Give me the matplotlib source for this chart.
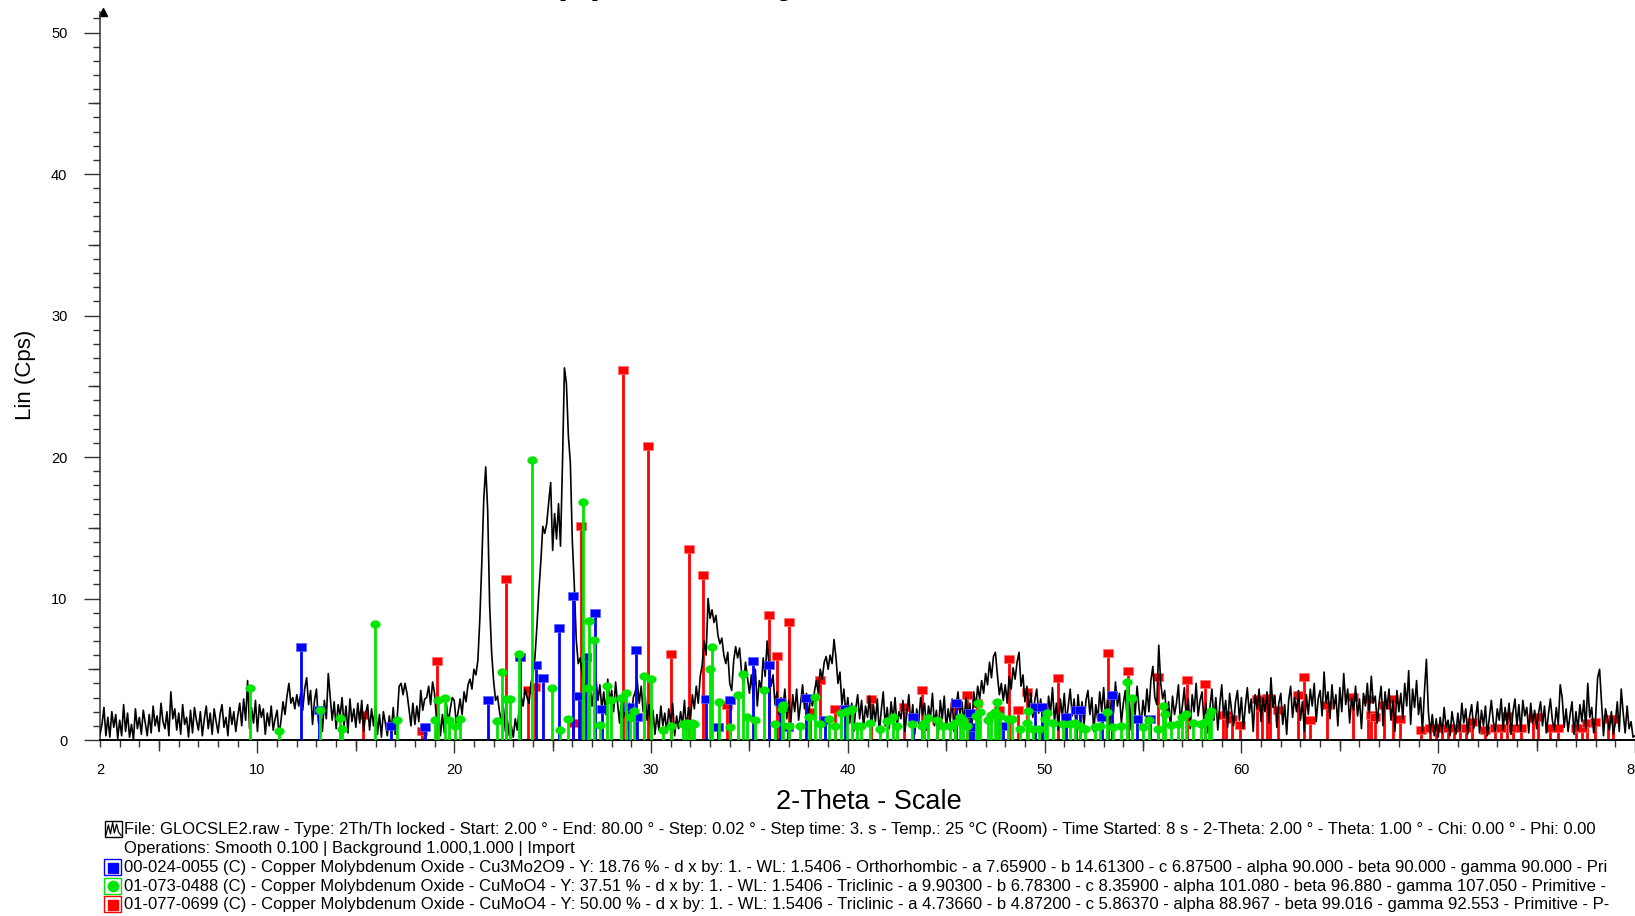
import numpy as np
import matplotlib
matplotlib.use('Agg')
import matplotlib.pyplot as plt
from matplotlib.patches import Rectangle
from matplotlib.lines import Line2D

plt.rcParams['font.family'] = ['Liberation Sans', 'DejaVu Sans']

# measured pattern, 2.0 .. 80.0 deg, step 0.1 (one row per degree)
start_2theta = 2.0
step_2theta = 0.1
counts = [
    0.4, 1.1, 2.3, 0.3, 1.6, 0.2, 2.0, 0.9, 1.8, 0.1,
    1.4, 0.3, 2.5, 0.6, 1.9, 0.2, 1.1, 0.0, 2.2, 0.8,
    1.6, 0.4, 2.1, 1.2, 0.3, 1.8, 0.5, 2.4, 1.0, 1.7,
    0.6, 2.6, 1.3, 0.8, 2.0, 0.3, 3.4, 1.5, 2.2, 0.7,
    1.9, 0.4, 2.5, 1.1, 1.6, 0.2, 2.1, 0.5, 2.3, 1.4,
    0.7, 2.0, 0.3, 1.5, 2.4, 0.8, 1.9, 0.4, 2.2, 1.3,
    0.5, 1.8, 2.5, 0.9, 1.6, 0.3, 2.3, 1.1, 2.0, 0.6,
    1.7, 2.6, 1.0, 2.9, 1.4, 4.2, 0.8, 2.3, 1.2, 2.8,
    0.6, 2.5, 1.6, 2.2, 0.4, 1.9, 1.0, 2.4, 0.7, 1.5,
    2.1, 0.3, 1.4, 2.7, 1.8, 3.1, 4.0, 2.6, 3.0, 2.2,
    3.2, 2.4, 3.3, 2.1, 3.6, 4.4, 2.5, 3.5, 1.1, 2.8,
    3.6, 1.2, 2.3, 0.6, 2.8, 1.5, 4.7, 3.0, 1.4, 2.7,
    0.8, 2.5, 1.7, 3.0, 1.0, 2.4, 0.5, 2.9, 1.3, 2.2,
    0.9, 2.6, 1.2, 2.8, 0.6, 1.9, 2.5, 0.7, 2.2, 1.0,
    2.4, 0.4, 1.8, 0.2, 2.0, 1.2, 0.3, 1.7, 0.6, 2.3,
    0.4, 1.5, 3.8, 4.0, 3.2, 4.0, 3.3, 2.2, 1.0, 2.6,
    1.1, 2.4, 1.3, 3.5, 2.1, 2.9, 3.0, 3.8, 2.5, 4.1,
    3.3, 1.4, 2.0, 0.3, 1.8, 0.5, 2.6, 1.2, 2.2, 3.0,
    2.8, 1.2, 2.0, 2.9, 1.8, 3.4, 2.7, 3.9, 4.3, 3.6,
    5.0, 4.6, 5.6, 8.5, 12.5, 17.0, 19.3, 16.2, 9.5, 6.2,
    4.2, 2.8, 3.1, 2.0, 1.2, 2.3, 0.6, 1.4, 0.3, 1.0,
    0.2, 1.5, 0.7, 2.2, 3.1, 2.4, 3.6, 3.0, 2.6, 4.0,
    4.7, 5.8, 8.0, 10.5, 12.6, 15.1, 14.6, 15.3, 16.8, 18.2,
    13.4, 16.0, 14.2, 16.7, 13.7, 19.5, 26.3, 25.2, 21.5, 19.6,
    14.1, 11.0, 7.1, 5.4, 5.8, 4.6, 3.5, 4.2, 2.6, 3.8,
    2.4, 3.6, 4.4, 2.8, 3.9, 2.2, 3.4, 1.8, 4.3, 2.7,
    3.5, 2.0, 4.1, 2.6, 1.2, 3.0, 1.6, 2.4, 0.8, 2.6,
    1.5, 3.0, 3.4, 4.2, 2.6, 3.8, 2.0, 3.1, 1.4, 2.5,
    0.9, 2.1, 0.4, 1.8, 0.7, 2.4, 1.0, 1.9, 0.5, 2.2,
    1.2, 2.6, 0.3, 1.7, 0.8, 2.0, 1.1, 2.8, 0.6, 2.3,
    1.4, 3.2, 2.2, 3.8, 2.6, 4.5, 5.3, 7.0, 6.0, 10.0,
    8.6, 9.2, 8.3, 8.8, 7.4, 6.8, 7.2, 6.0, 5.4, 6.2,
    4.0, 3.5, 5.6, 6.6, 5.8, 6.5, 4.8, 3.9, 5.5, 4.4,
    3.3, 4.6, 3.0, 5.0, 2.4, 4.2, 3.6, 5.8, 4.5, 7.0,
    5.2, 3.8, 4.6, 2.5, 3.4, 1.8, 3.0, 2.2, 3.6, 1.5,
    2.8, 1.2, 3.2, 2.0, 3.6, 1.4, 2.6, 3.9, 2.2, 3.3,
    1.6, 3.0, 2.4, 3.4, 4.2, 3.3, 5.0, 4.3, 5.5, 5.9,
    5.0, 6.0, 5.4, 7.1, 5.8, 4.0, 4.8, 2.5, 3.6, 1.8,
    3.0, 1.2, 2.6, 0.6, 2.2, 3.2, 1.5, 2.8, 0.9, 2.4,
    1.6, 3.1, 0.7, 2.5, 1.3, 2.9, 0.5, 2.1, 3.4, 1.0,
    2.3, 0.8, 2.7, 1.4, 3.0, 0.9, 2.0, 1.5, 2.8, 0.6,
    1.9, 3.2, 1.1, 2.5, 0.4, 2.2, 1.2, 3.0, 1.8, 2.6,
    0.7, 2.4, 1.6, 3.3, 1.0, 2.1, 0.5, 2.8, 1.5, 3.1,
    0.8, 2.2, 1.3, 2.9, 0.6, 2.4, 3.4, 1.8, 2.7, 1.2,
    3.0, 1.5, 2.6, 0.7, 3.4, 2.3, 3.8, 2.9, 4.2, 3.3,
    4.7, 3.9, 5.5, 4.4, 5.9, 6.2, 4.6, 3.2, 4.0, 2.8,
    3.9, 2.6, 4.5, 3.6, 5.1, 4.3, 5.5, 6.2, 3.8, 4.6,
    2.7, 3.8, 2.1, 3.3, 1.6, 2.8, 3.6, 1.9, 2.9, 1.2,
    2.5, 0.8, 3.1, 1.9, 3.7, 1.3, 2.6, 0.7, 2.9, 1.6,
    3.3, 1.1, 2.4, 3.6, 1.7, 2.9, 0.9, 3.2, 1.5, 2.7,
    1.0, 2.8, 3.5, 1.8, 3.0, 0.6, 2.5, 1.4, 3.4, 2.0,
    3.7, 1.5, 2.9, 0.8, 3.2, 1.9, 4.1, 2.4, 3.3, 1.2,
    2.6, 3.5, 1.4, 2.9, 0.7, 3.0, 1.8, 3.8, 2.2, 1.0,
    2.8, 1.7, 3.6, 2.0, 4.2, 5.2, 3.0, 2.5, 6.7, 4.0,
    2.9, 3.5, 1.6, 2.7, 0.9, 3.1, 1.8, 2.6, 3.9, 1.3,
    2.4, 3.7, 1.5, 2.9, 0.8, 3.2, 2.0, 4.0, 1.7, 2.8,
    3.4, 1.2, 2.6, 0.5, 2.3, 3.6, 1.4, 3.0, 0.7, 2.5,
    3.9, 1.6, 2.8, 0.9, 3.3, 2.1, 1.0, 2.7, 3.5, 1.4,
    3.0, 0.8, 2.4, 3.7, 1.9, 2.9, 0.6, 3.2, 2.2, 3.6,
    1.3, 3.0, 2.0, 3.4, 1.2, 4.4, 2.3, 3.1, 0.9, 2.6,
    3.3, 1.1, 2.5, 0.4, 2.8, 3.8, 1.6, 3.0, 2.0, 3.5,
    1.4, 2.7, 0.6, 3.2, 1.8, 3.6, 2.4, 4.0, 1.3, 2.9,
    3.5, 1.7, 4.8, 2.6, 3.4, 1.5, 3.9, 2.2, 3.2, 1.0,
    3.7, 2.0, 4.7, 2.5, 3.6, 1.2, 3.0, 2.1, 3.8, 1.7,
    2.9, 0.8, 3.3, 2.4, 4.0, 1.9, 4.5, 2.6, 3.1, 1.2,
    2.7, 3.8, 1.0, 3.4, 2.2, 3.6, 1.4, 2.8, 0.6, 3.5,
    2.0, 3.3, 1.5, 4.0, 2.4, 4.9, 1.1, 3.6, 2.3, 4.2,
    1.8, 3.0, 0.6, 3.4, 5.7, 2.0, 0.5, 1.8, 0.3, 1.5,
    0.2, 1.6, 0.5, 2.3, 0.9, 1.4, 0.3, 2.0, 1.1, 0.4,
    1.9, 0.6, 2.6, 1.2, 2.2, 0.4, 1.7, 2.5, 0.8, 1.5,
    2.7, 0.5, 2.1, 1.0, 2.4, 0.3, 1.6, 2.8, 1.3, 0.6,
    2.2, 1.4, 2.9, 0.7, 2.3, 1.1, 2.6, 0.4, 2.0, 2.9,
    1.0, 2.5, 0.6, 2.8, 1.7, 2.3, 0.5, 2.6, 1.2, 2.1,
    0.8, 1.9, 2.7, 1.0, 2.4, 0.5, 1.8, 2.9, 1.4, 0.7,
    2.3, 1.1, 3.9, 3.0, 0.9, 2.2, 0.6, 1.8, 2.7, 0.4,
    2.0, 0.7, 2.5, 1.3, 2.8, 0.8, 4.0, 1.6, 2.3, 0.5,
    1.6, 4.4, 5.0, 2.6, 0.3, 2.2, 1.5, 0.7, 2.0, 0.4,
    1.2, 2.7, 0.6, 3.6, 1.9, 0.5, 2.4, 0.8, 1.3, 0.2,
    0.3,
]

# reference patterns (stick positions in deg 2-theta, intensity in Cps)
blue_pos = [12.2, 13.13, 16.8, 18.5, 21.73, 23.34, 24.14, 24.5, 25.34, 26.02,
            26.35, 26.7, 27.15, 27.5, 28.9, 29.22, 29.3, 32.8, 33.4, 34.0,
            35.17, 35.98, 36.55, 36.97, 37.9, 38.84, 39.86, 43.33, 45.5, 46.2,
            46.37, 47.9, 49.5, 49.85, 51.1, 51.6, 51.8, 52.9, 53.4, 54.67, 55.35]
blue_int = [6.6, 2.1, 1.0, 0.9, 2.8, 5.9, 5.3, 4.35, 7.9, 10.2,
            3.1, 5.9, 8.95, 2.2, 2.35, 6.35, 1.65, 2.9, 0.95, 2.8,
            5.6, 5.3, 2.7, 0.95, 2.95, 1.4, 2.2, 1.65, 2.6, 1.9,
            0.95, 1.0, 2.35, 2.35, 1.65, 2.1, 2.1, 1.65, 3.2, 1.5, 1.5]

green_pos = [9.62, 11.1, 13.2, 14.2, 14.3, 15.96, 17.1, 19.03, 19.2, 19.53,
             19.75, 20.02, 20.3, 22.16, 22.43, 22.63, 22.83, 23.29, 23.93, 24.95,
             25.37, 25.8, 26.52, 26.8, 26.87, 27.12, 27.4, 27.78, 27.96, 28.46,
             28.73, 28.91, 29.14, 29.66, 30.02, 30.62, 31.02, 31.6, 31.8, 31.95,
             32.1, 32.2, 32.98, 33.08, 33.45, 34.0, 34.43, 34.66, 34.86, 35.28,
             35.76, 36.32, 36.64, 36.72, 37.03, 37.57, 38.04, 38.33, 38.6, 39.06,
             39.35, 39.63, 39.94, 40.19, 40.45, 40.67, 41.13, 41.63, 41.97, 42.28,
             42.51, 43.24, 43.75, 43.88, 44.09, 44.51, 44.85, 45.19, 45.44, 45.7,
             45.83, 46.04, 46.5, 46.6, 46.7, 47.14, 47.3, 47.5, 47.6, 47.73,
             48.12, 48.32, 48.75, 49.08, 49.17, 49.42, 49.73, 50.0, 50.1, 50.44,
             50.95, 51.29, 51.54, 51.8, 52.05, 52.56, 52.8, 53.18, 53.49, 53.9,
             54.2, 54.42, 55.0, 55.32, 55.78, 56.0, 56.1, 56.4, 56.79, 57.0,
             57.18, 57.55, 57.93, 58.15, 58.37, 58.48]
green_int = [3.7, 0.64, 2.1, 1.55, 0.8, 8.2, 1.4, 1.4, 2.8, 3.0,
             1.4, 0.97, 1.5, 1.37, 4.8, 2.9, 2.9, 6.1, 19.8, 3.65,
             0.7, 1.48, 16.8, 3.65, 8.4, 7.1, 1.05, 3.82, 2.8, 2.97,
             3.35, 1.65, 2.06, 4.5, 4.3, 0.72, 0.97, 1.1, 1.2, 1.15,
             1.2, 1.1, 5.05, 6.6, 2.7, 0.92, 3.2, 4.64, 1.65, 1.4,
             3.5, 1.1, 2.2, 2.45, 1.0, 1.0, 1.6, 3.06, 1.1, 1.5,
             1.0, 1.9, 2.07, 2.2, 1.0, 1.0, 1.2, 0.75, 1.34, 1.6,
             1.0, 1.1, 1.0, 1.2, 1.53, 1.4, 1.0, 1.0, 1.2, 1.65,
             1.4, 1.0, 1.7, 2.6, 2.0, 1.4, 1.77, 2.0, 2.66, 1.7,
             1.5, 1.5, 0.8, 1.2, 2.07, 0.8, 0.8, 1.5, 1.9, 1.2,
             1.1, 1.1, 1.2, 1.0, 0.8, 0.9, 1.0, 2.0, 0.9, 1.0,
             4.12, 2.94, 0.9, 1.4, 0.8, 2.4, 1.84, 1.05, 1.1, 1.65,
             1.84, 1.2, 1.1, 1.3, 1.72, 2.05]

red_pos = [15.35, 18.34, 19.1, 22.63, 23.76, 24.1, 26.02, 26.43, 28.56, 29.83,
           31.0, 31.93, 32.66, 33.88, 35.99, 36.38, 37.0, 38.08, 38.58, 39.35,
           41.16, 42.85, 43.75, 44.51, 45.44, 46.04, 46.54, 47.67, 48.19, 48.66,
           49.08, 50.7, 53.23, 54.22, 55.74, 57.21, 58.15, 59.08, 59.2, 59.5,
           59.93, 60.8, 61.03, 61.28, 61.45, 61.84, 62.89, 63.18, 63.48, 64.33,
           65.65, 66.44, 66.6, 66.77, 67.25, 67.7, 68.05, 69.15, 69.6, 69.9,
           70.2, 70.5, 70.8, 71.1, 71.4, 71.7, 72.4, 72.9, 73.2, 73.5,
           73.8, 74.2, 74.83, 75.08, 75.68, 76.1, 77.0, 77.3, 77.54, 77.96,
           78.64, 78.9]
red_int = [1.8, 0.66, 5.6, 11.36, 3.53, 3.72, 1.18, 15.15, 26.15, 20.78,
           6.08, 13.48, 11.66, 2.47, 8.83, 5.96, 8.36, 2.0, 4.24, 2.2,
           2.88, 2.35, 3.53, 1.41, 2.4, 3.18, 2.64, 2.1, 5.7, 2.12,
           3.42, 4.4, 6.17, 4.88, 4.43, 4.24, 3.98, 1.77, 1.77, 1.5,
           1.05, 2.87, 2.3, 3.0, 3.0, 2.12, 3.18, 4.43, 1.4, 2.47,
           3.06, 2.9, 1.77, 1.65, 2.5, 2.87, 1.5, 0.7, 0.82, 0.82,
           0.82, 0.82, 0.82, 0.82, 0.82, 1.3, 0.7, 0.87, 0.87, 1.7,
           0.87, 0.87, 1.53, 1.6, 0.82, 0.82, 0.82, 0.82, 1.2, 1.25,
           1.46, 1.46]

title = 'Copper Molybdenum Oxide'
legend_lines = [
    'File: GLOCSLE2.raw - Type: 2Th/Th locked - Start: 2.00 \u00b0 - End: 80.00 \u00b0 - Step: 0.02 \u00b0 - '
    'Step time: 3. s - Temp.: 25 \u00b0C (Room) - Time Started: 8 s - 2-Theta: 2.00 \u00b0 - '
    'Theta: 1.00 \u00b0 - Chi: 0.00 \u00b0 - Phi: 0.00',
    'Operations: Smooth 0.100 | Background 1.000,1.000 | Import',
    '00-024-0055 (C) - Copper Molybdenum Oxide - Cu3Mo2O9 - Y: 18.76 % - d x by: 1. - WL: 1.5406 - '
    'Orthorhombic - a 7.65900 - b 14.61300 - c 6.87500 - alpha 90.000 - beta 90.000 - gamma 90.000 - Pri',
    '01-073-0488 (C) - Copper Molybdenum Oxide - CuMoO4 - Y: 37.51 % - d x by: 1. - WL: 1.5406 - '
    'Triclinic - a 9.90300 - b 6.78300 - c 8.35900 - alpha 101.080 - beta 96.880 - gamma 107.050 - Primitive -',
    '01-077-0699 (C) - Copper Molybdenum Oxide - CuMoO4 - Y: 50.00 % - d x by: 1. - WL: 1.5406 - '
    'Triclinic - a 4.73660 - b 4.87200 - c 5.86370 - alpha 88.967 - beta 99.016 - gamma 92.553 - Primitive - P-',
]

W, H = 1635, 916
BLUE, GREEN, RED = '#0000ff', '#00e600', '#ff0000'

two_theta = start_2theta + step_2theta * np.arange(len(counts))

fig = plt.figure(figsize=(W / 100, H / 100), dpi=100)
ax = fig.add_axes([100 / W, (H - 740) / H, 1535 / W, 728 / H])

# rectangular and elliptic stick heads
rect_marker = [(-1, -0.75), (1, -0.75), (1, 0.75), (-1, 0.75), (-1, -0.75)]
t = np.linspace(0, 2 * np.pi, 32)
ell_marker = list(zip(np.cos(t), 0.8 * np.sin(t)))

ax.vlines(red_pos, 0, red_int, colors=RED, lw=2.0, zorder=2)
ax.plot(red_pos, red_int, ls='none', marker=rect_marker, ms=7, mfc=RED, mec='#ff7070', mew=0.5, zorder=2)

ax.plot(two_theta, counts, color='black', lw=1.2, zorder=3)

ax.vlines(blue_pos, 0, blue_int, colors=BLUE, lw=2.0, zorder=4)
ax.plot(blue_pos, blue_int, ls='none', marker=rect_marker, ms=7, mfc=BLUE, mec='#6060ff', mew=0.5, zorder=4)

ax.vlines(green_pos, 0, green_int, colors=GREEN, lw=2.0, zorder=5)
ax.plot(green_pos, green_int, ls='none', marker=ell_marker, ms=7, mfc=GREEN, mec=GREEN, mew=0.3, zorder=5)

ax.set_xlim(2, 80)
ax.set_ylim(0, 51.45)

for s in ['top', 'right']:
    ax.spines[s].set_visible(False)
ax.spines['left'].set_color('#333333')
ax.spines['left'].set_linewidth(1.1)
ax.spines['bottom'].set_color('black')
ax.spines['bottom'].set_linewidth(1.4)

ax.set_xticks([2, 10, 20, 30, 40, 50, 60, 70, 80])
ax.set_xticklabels(['2', '10', '20', '30', '40', '50', '60', '70', '80'])
ax.set_xticks(np.arange(2, 81, 1), minor=True)
ax.set_yticks([0, 10, 20, 30, 40, 50])
ax.set_yticks(np.arange(0, 52, 1), minor=True)
ax.tick_params(axis='x', which='major', direction='out', length=9.5, width=1.0, pad=7, labelsize=10.5, color='#333333')
ax.tick_params(axis='x', which='minor', direction='out', length=5, width=1.0, color='#333333')
ax.tick_params(axis='y', which='major', direction='out', length=11.5, width=1.0, pad=12, labelsize=10.5, color='#333333')
ax.tick_params(axis='y', which='minor', direction='out', length=5.3, width=1.0, color='#333333')
ax.xaxis.get_major_ticks()[0].tick1line.set_markersize(5)

# medium ticks every 5 units
ax.plot(np.arange(5, 80, 10), np.zeros(8), ls='none', marker=3, ms=8, mew=1.0, color='#333333',
        transform=ax.get_xaxis_transform(), clip_on=False)
ax.plot(np.zeros(5), np.arange(5, 50, 10), ls='none', marker=0, ms=9, mew=1.0, color='#333333',
        transform=ax.get_yaxis_transform(), clip_on=False)
# arrow head on the y axis
ax.plot(0.002, 1.0, marker='^', ms=6, color='black', transform=ax.transAxes, clip_on=False)

# title sits above the canvas, only its descenders show
fig.text(484 / W, 1 + 11 / H, title, fontsize=41, ha='left', va='baseline')
fig.text(26 / W, 1 - 375 / H, 'Lin (Cps)', rotation=90, fontsize=16, ha='center', va='center')
fig.text(869 / W, 1 - 802 / H, '2-Theta - Scale', fontsize=19.5, ha='center', va='center')

# legend block
line_y = [829.5, 848.5, 867.5, 886, 904.5]
for yy, txt in zip(line_y, legend_lines):
    fig.text(124 / W, 1 - yy / H, txt, fontsize=12.0, ha='left', va='center')

def px_rect(x0, y0, w, h, ec):
    fig.add_artist(Rectangle((x0 / W, 1 - (y0 + h) / H), w / W, h / H, transform=fig.transFigure,
                             fill=False, ec=ec, lw=1.0))

px_rect(105, 821, 17, 16, 'black')
wx = np.array([0.05, 0.2, 0.32, 0.45, 0.55, 0.68, 0.8, 0.95])
wy = np.array([0.1, 0.75, 0.2, 0.9, 0.25, 0.8, 0.3, 0.1])
fig.add_artist(Line2D((105 + 17 * wx) / W, 1 - (837 - 16 * wy) / H, color='black', lw=0.9,
                      transform=fig.transFigure))

for yy, col, mk in zip(line_y[2:], [BLUE, GREEN, RED], ['s', 'o', 's']):
    px_rect(104, yy - 8.5, 17, 16, col)
    fig.add_artist(Line2D([112.5 / W], [1 - yy / H], ls='none', marker=mk, ms=7 if mk == 's' else 7.5,
                          mfc=col, mec=col, transform=fig.transFigure))

fig.savefig('out.png', dpi=100)
